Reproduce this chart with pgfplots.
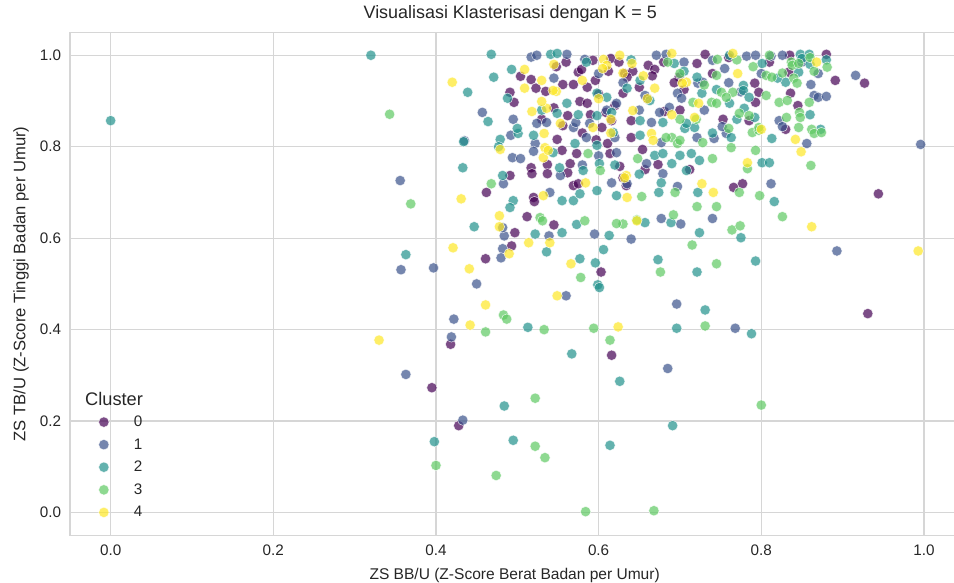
\documentclass[border=0pt]{standalone}
\usepackage{pgfplots}
\pgfplotsset{compat=1.18}
\usepackage{fontspec}
\setmainfont{Liberation Sans}
\definecolor{c0}{RGB}{68,1,84}
\definecolor{c1}{RGB}{59,82,139}
\definecolor{c2}{RGB}{33,145,140}
\definecolor{c3}{RGB}{94,201,98}
\definecolor{c4}{RGB}{253,231,37}
\definecolor{gridc}{RGB}{214,214,214}
\definecolor{txt}{RGB}{38,38,38}
\pgfplotsset{
  clusterplot/.style={only marks, mark=*, mark size=5.2bp,
    mark options={draw=white, line width=0.5bp, fill=#1, fill opacity=0.7, draw opacity=0.8}}
}
\begin{document}
\begin{tikzpicture}
\begin{axis}[
  name=ax, at={(0,0)}, anchor=south west,
  scale only axis, width=884bp, height=503bp,
  xmin=-0.05, xmax=1.037, ymin=-0.05, ymax=1.05,
  xtick={0,0.2,0.4,0.6,0.8,1.0}, ytick={0,0.2,0.4,0.6,0.8,1.0},
  xticklabels={0.0,0.2,0.4,0.6,0.8,1.0},
  yticklabels={0.0,0.2,0.4,0.6,0.8,1.0},
  major tick length=0pt,
  grid=major, major grid style={gridc, line width=1.2bp},
  axis line style={draw=none},
  ticklabel style={font=\fontsize{15.3}{18}\selectfont, text=txt},
  xticklabel style={yshift=-6bp},
  yticklabel style={xshift=-5.5bp},
  title={Visualisasi Klasterisasi dengan K = 5},
  title style={at={(axis description cs:0.498,1)}, anchor=base, yshift=7.8bp,
    font=\fontsize{18}{21}\selectfont, text=txt},
  xlabel={ZS BB/U (Z-Score Berat Badan per Umur)},
  xlabel style={at={(axis description cs:0.503,0)}, anchor=base, yshift=-44.5bp,
    font=\fontsize{15.6}{19}\selectfont, text=txt},
  ylabel={ZS TB/U (Z-Score Tinggi Badan per Umur)},
  ylabel style={at={(axis description cs:-0.0506,0.5)}, anchor=base,
    font=\fontsize{16.7}{20}\selectfont, text=txt},
  legend style={at={(axis description cs:0.0322,0.0334)}, anchor=south west,
    draw=none, fill=none, inner sep=0pt, row sep=10.5bp, column sep=24.7bp,
    font=\fontsize{15.3}{18}\selectfont, text=txt, nodes={inner sep=0pt}},
  legend cell align=left,
]
\addplot[clusterplot=c0] coordinates {
(0.395,0.273)(0.428,0.190)(0.418,0.368)(0.616,0.344)(0.931,0.435)(0.944,0.697)
(0.461,0.555)(0.497,0.612)(0.493,0.583)(0.512,0.647)(0.545,0.629)(0.603,0.526)
(0.462,0.700)(0.491,0.737)(0.517,0.754)(0.537,0.761)(0.518,0.741)(0.537,0.741)
(0.562,0.743)(0.569,0.715)(0.520,0.689)(0.521,0.680)(0.575,0.719)(0.565,0.763)
(0.573,0.785)(0.555,0.792)(0.549,0.816)(0.562,0.868)(0.556,0.846)(0.604,0.842)
(0.611,0.807)(0.614,0.785)(0.630,0.732)(0.626,0.757)(0.491,0.919)(0.496,0.897)
(0.504,0.954)(0.517,0.947)(0.523,0.928)(0.535,0.921)(0.556,0.936)(0.569,0.936)
(0.575,0.963)(0.579,0.969)(0.593,0.989)(0.596,0.945)(0.577,0.899)(0.586,0.895)
(0.586,0.930)(0.609,0.875)(0.615,0.993)(0.616,0.857)(0.630,0.917)(0.640,0.857)
(0.632,0.960)(0.642,0.965)(0.635,0.952)(0.661,0.978)(0.669,0.969)(0.666,0.955)
(0.699,0.952)(0.693,0.940)(0.721,0.982)(0.731,1.002)(0.681,0.877)(0.654,0.794)
(0.673,0.761)(0.657,0.750)(0.634,0.715)(0.712,0.750)(0.753,0.860)(0.785,0.857)
(0.797,0.919)(0.792,0.939)(0.793,0.897)(0.836,0.917)(0.834,0.963)(0.835,1.000)
(0.880,1.002)(0.891,0.945)(0.927,0.939)(0.830,0.838)(0.777,0.719)(0.766,0.711)
(0.548,0.975)(0.560,0.985)(0.600,0.915)(0.612,0.965)(0.625,0.985)(0.650,0.930)
(0.660,0.905)(0.680,0.985)(0.705,0.925)(0.590,0.870)(0.597,0.815)(0.580,0.830)
(0.640,0.820)(0.700,0.880)(0.740,0.960)(0.760,0.995)(0.810,0.985)(0.845,0.890)
(0.620,0.890)(0.530,0.860)(0.545,0.885)
};
\addlegendentry{0}
\addplot[clusterplot=c1] coordinates {
(0.363,0.302)(0.433,0.202)(0.685,0.315)(0.357,0.531)(0.397,0.535)(0.356,0.726)
(0.422,0.423)(0.419,0.384)(0.450,0.500)(0.484,0.605)(0.482,0.577)(0.480,0.557)
(0.560,0.474)(0.595,0.609)(0.640,0.598)(0.893,0.572)(0.996,0.805)(0.677,0.643)
(0.701,0.631)(0.740,0.643)(0.696,0.456)(0.768,0.403)(0.435,0.813)(0.457,0.875)
(0.494,0.776)(0.504,0.774)(0.495,0.860)(0.483,0.719)(0.492,0.825)(0.522,0.807)
(0.553,0.737)(0.585,0.820)(0.569,0.842)(0.589,0.851)(0.622,0.787)(0.616,0.721)
(0.517,0.996)(0.524,1.000)(0.561,1.002)(0.583,0.991)(0.622,0.895)(0.524,0.851)
(0.536,0.853)(0.572,0.853)(0.671,1.000)(0.683,1.002)(0.782,0.998)(0.793,1.000)
(0.812,0.998)(0.826,1.000)(0.740,0.989)(0.755,0.971)(0.722,0.939)(0.728,0.941)
(0.697,0.917)(0.702,0.906)(0.675,0.875)(0.687,0.886)(0.657,0.912)(0.665,0.853)
(0.861,0.936)(0.865,0.912)(0.870,0.908)(0.916,0.956)(0.822,0.857)(0.826,0.844)
(0.856,0.807)(0.677,0.809)(0.659,0.763)(0.635,0.719)(0.679,0.741)(0.697,0.713)
(0.721,0.820)(0.742,0.818)(0.757,0.829)(0.752,0.844)(0.812,0.719)(0.539,0.605)
(0.482,0.623)(0.545,0.950)(0.600,0.960)(0.630,0.940)(0.610,0.880)(0.650,0.880)
(0.705,0.985)(0.760,0.940)(0.800,0.960)(0.850,0.985)(0.870,0.960)(0.880,0.910)
(0.540,0.700)(0.580,0.760)(0.520,0.790)(0.600,0.780)(0.730,0.880)(0.775,0.920)
(0.620,0.820)
};
\addlegendentry{1}
\addplot[clusterplot=c2] coordinates {
(0.000,0.857)(0.320,1.000)(0.363,0.564)(0.398,0.155)(0.484,0.233)(0.495,0.158)
(0.626,0.287)(0.614,0.147)(0.691,0.190)(0.513,0.405)(0.567,0.347)(0.696,0.403)
(0.788,0.391)(0.731,0.443)(0.447,0.625)(0.555,0.612)(0.522,0.609)(0.536,0.570)
(0.573,0.630)(0.613,0.606)(0.606,0.575)(0.596,0.546)(0.599,0.498)(0.601,0.492)
(0.577,0.555)(0.657,0.634)(0.689,0.634)(0.724,0.612)(0.775,0.601)(0.673,0.553)
(0.721,0.526)(0.793,0.550)(0.816,0.680)(0.468,1.002)(0.471,0.952)(0.439,0.919)
(0.464,0.855)(0.493,0.969)(0.433,0.754)(0.434,0.811)(0.479,0.816)(0.501,0.829)
(0.477,0.800)(0.541,1.002)(0.549,1.004)(0.488,0.906)(0.549,0.873)(0.561,0.895)
(0.598,0.917)(0.610,0.908)(0.598,0.868)(0.616,0.875)(0.500,0.840)(0.520,0.825)
(0.544,0.787)(0.571,0.807)(0.618,0.831)(0.598,0.803)(0.552,0.754)(0.581,0.748)
(0.601,0.763)(0.482,0.737)(0.495,0.682)(0.491,0.667)(0.555,0.682)(0.569,0.682)
(0.577,0.697)(0.598,0.704)(0.622,0.693)(0.651,0.825)(0.669,0.781)(0.679,0.785)
(0.690,0.763)(0.700,0.781)(0.706,0.840)(0.718,0.842)(0.714,0.785)(0.724,0.770)
(0.708,0.748)(0.677,0.721)(0.674,0.700)(0.722,0.700)(0.763,0.820)(0.813,0.818)
(0.801,0.765)(0.810,0.765)(0.761,1.000)(0.693,0.982)(0.651,0.945)(0.721,0.952)
(0.778,0.934)(0.801,0.982)(0.778,0.923)(0.779,0.884)(0.785,0.908)(0.727,0.917)
(0.761,0.895)(0.663,0.901)(0.635,0.928)(0.651,0.857)(0.679,0.853)(0.708,0.851)
(0.792,0.864)(0.848,1.002)(0.859,1.002)(0.850,0.993)(0.846,0.963)(0.830,0.941)
(0.873,0.838)(0.585,0.985)(0.640,0.990)(0.705,0.965)(0.745,0.925)(0.820,0.950)
(0.860,0.980)(0.530,0.880)(0.575,0.870)(0.620,0.760)(0.650,0.740)(0.740,0.830)
(0.770,0.860)(0.860,0.870)(0.880,0.990)
};
\addlegendentry{2}
\addplot[clusterplot=c3] coordinates {
(0.343,0.871)(0.369,0.675)(0.400,0.103)(0.522,0.250)(0.522,0.145)(0.534,0.120)
(0.474,0.081)(0.584,0.002)(0.668,0.004)(0.800,0.235)(0.461,0.395)(0.483,0.432)
(0.487,0.423)(0.533,0.400)(0.594,0.403)(0.614,0.377)(0.731,0.408)(0.578,0.514)
(0.676,0.526)(0.745,0.544)(0.715,0.585)(0.721,0.669)(0.745,0.669)(0.826,0.647)
(0.692,0.651)(0.630,0.631)(0.764,0.618)(0.774,0.627)(0.622,0.632)(0.647,0.640)
(0.528,0.645)(0.531,0.638)(0.583,0.638)(0.468,0.719)(0.587,0.785)(0.602,0.748)
(0.648,0.774)(0.690,0.820)(0.697,0.807)(0.728,0.809)(0.740,0.774)(0.763,0.798)
(0.789,0.831)(0.797,0.836)(0.793,0.792)(0.783,0.752)(0.694,0.700)(0.653,0.691)
(0.773,0.700)(0.798,0.693)(0.685,0.985)(0.745,0.956)(0.751,0.919)(0.765,0.919)
(0.806,0.956)(0.813,0.952)(0.826,0.961)(0.806,0.912)(0.822,0.897)(0.832,0.901)
(0.716,0.897)(0.739,0.897)(0.757,0.908)(0.773,0.873)(0.785,0.868)(0.797,0.842)
(0.831,0.864)(0.746,0.991)(0.881,0.974)(0.837,0.985)(0.838,0.978)(0.846,0.982)
(0.865,0.965)(0.840,0.950)(0.844,0.939)(0.859,0.897)(0.847,0.875)(0.848,0.864)
(0.862,0.838)(0.846,0.842)(0.865,0.829)(0.861,0.759)(0.745,0.895)(0.874,0.831)
(0.683,0.820)(0.700,0.814)(0.700,0.960)(0.730,0.935)(0.770,0.990)(0.790,0.975)
(0.810,1.000)(0.860,0.995)(0.720,0.860)(0.760,0.840)(0.700,0.860)
};
\addlegendentry{3}
\addplot[clusterplot=c4] coordinates {
(0.330,0.377)(0.420,0.941)(0.421,0.579)(0.441,0.533)(0.461,0.454)(0.442,0.410)
(0.431,0.686)(0.478,0.649)(0.478,0.625)(0.490,0.566)(0.514,0.590)(0.540,0.590)
(0.566,0.544)(0.549,0.474)(0.624,0.406)(0.647,0.638)(0.862,0.625)(0.993,0.572)
(0.727,0.719)(0.741,0.700)(0.783,0.765)(0.842,0.816)(0.849,0.789)(0.868,0.985)
(0.509,0.928)(0.530,0.945)(0.545,0.980)(0.518,0.877)(0.536,0.884)(0.530,0.899)
(0.548,0.921)(0.509,0.969)(0.606,0.991)(0.610,0.978)(0.626,1.000)(0.630,0.961)
(0.479,0.794)(0.533,0.829)(0.532,0.776)(0.584,0.721)(0.532,0.693)(0.635,0.689)
(0.665,0.829)(0.667,0.814)(0.641,0.982)(0.708,0.941)(0.669,0.928)(0.642,0.879)
(0.718,0.864)(0.723,0.895)(0.771,0.960)(0.634,0.737)(0.800,0.838)(0.765,1.004)
(0.690,1.004)(0.703,0.939)(0.544,0.923)(0.605,0.971)(0.534,0.798)(0.538,0.792)
(0.553,0.851)(0.593,0.842)(0.632,0.732)(0.580,0.945)(0.600,0.905)(0.615,0.830)
(0.655,0.955)(0.690,0.870)(0.660,0.905)(0.615,0.860)
};
\addlegendentry{4}
\end{axis}
\draw[gridc, line width=1.2bp] (ax.north east) -- (ax.north west) -- (ax.south west) -- (ax.south east);
\node[anchor=west, inner sep=0pt, font=\fontsize{18.3}{21}\selectfont, text=txt]
  at ([shift={(15bp,136.8bp)}]ax.south west) {Cluster};
\pgfresetboundingbox
\path[use as bounding box] ([shift={(-70bp,-47.6bp)}]ax.south west) rectangle ([shift={(0bp,32.4bp)}]ax.north east);
\end{tikzpicture}
\end{document}
